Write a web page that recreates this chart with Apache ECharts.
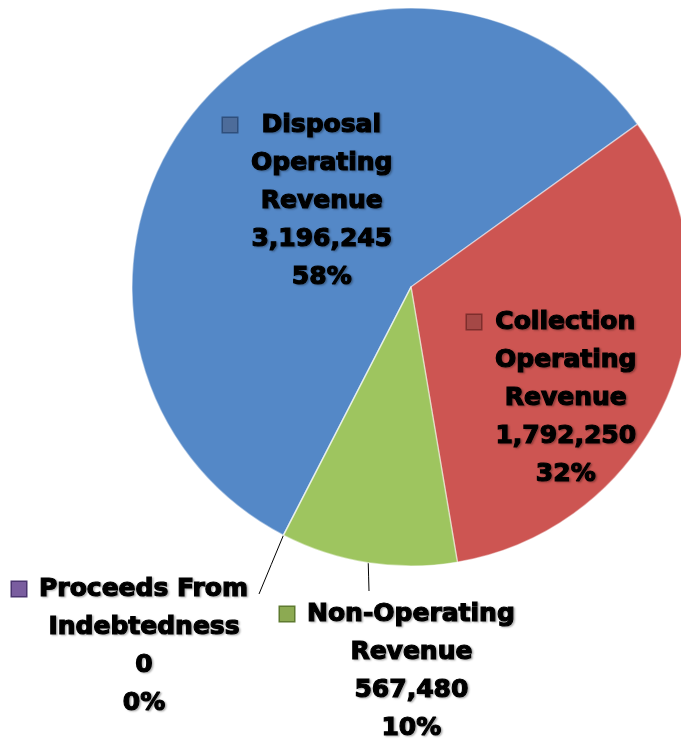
<!DOCTYPE html>
<html>
<head>
<meta charset="utf-8">
<script src="https://cdn.jsdelivr.net/npm/echarts@6/dist/echarts.min.js"></script>
<style>
  html, body { margin: 0; padding: 0; background: #ffffff; }
  #chart { width: 681px; height: 739px; }
</style>
</head>
<body>
<div id="chart"></div>
<script>
// Revenue sources (label lines are split where the label wraps)
const categories = [
  'Disposal\nOperating\nRevenue',
  'Collection\nOperating\nRevenue',
  'Non-Operating\nRevenue',
  'Proceeds From\nIndebtedness'
];
const revenueValues = [3196245, 1792250, 567480, 0];
const sliceColors = ['#5488c7', '#cd5552', '#9ec55f', '#7d61a0'];
const keyColors = ['#4d6c9a', '#a54846', '#8caa52', '#7a5d9f'];
const rimColors = ['#2f4f7c', '#7e2e2c', '#5e7a30', '#4b3570'];

// Where each label block sits (left edge of the legend key, vertical middle)
const labelAnchors = [
  { x: 223, y: 201, inside: true },
  { x: 467, y: 398, inside: true },
  { x: 280, y: 671, inside: false, lineEnd: [369, 591] },
  { x: 12,  y: 646, inside: false, lineEnd: [259, 594] }
];

const fmtNumber = v => v.toLocaleString('en-US');

const rich = {
  gap: { width: 13, align: 'left' },
  pad: { width: 28, align: 'left' },
  t: {
    fontFamily: 'DejaVu Sans',
    fontWeight: 'bold',
    fontSize: 25,
    color: '#000000',
    textBorderColor: '#000000',
    textBorderWidth: 1.2,
    lineHeight: 38,
    align: 'center'
  }
};
keyColors.forEach((c, i) => {
  rich['k' + i] = {
    width: 14, height: 14, align: 'left',
    backgroundColor: c,
    borderColor: rimColors[i], borderWidth: 1.5
  };
});

const chart = echarts.init(document.getElementById('chart'), null, { renderer: 'canvas' });

chart.setOption({
  animation: false,
  backgroundColor: '#ffffff',
  series: [{
    type: 'pie',
    center: [411, 287],
    radius: 279,
    startAngle: 242.8,
    clockwise: true,
    avoidLabelOverlap: false,
    emphasis: { disabled: true },
    itemStyle: { borderColor: 'rgba(255,255,255,0.45)', borderWidth: 1.5 },
    label: {
      show: true,
      position: 'outside',
      lineHeight: 38,
      textShadowColor: 'rgba(0,0,0,0.25)',
      textShadowBlur: 2,
      textShadowOffsetX: 1.5,
      textShadowOffsetY: 1.5,
      rich: rich,
      formatter: p => {
        const lines = p.name.split('\n')
          .concat([fmtNumber(p.value), Math.round(p.percent) + '%']);
        return lines.map((t, i) =>
          (i === 0 ? '{k' + p.dataIndex + '|}{gap|}' : '{pad|}') + '{t|' + t + '}'
        ).join('\n');
      }
    },
    labelLine: { show: true, length: 10, length2: 10, lineStyle: { color: '#000000', width: 1 } },
    labelLayout: params => {
      const a = labelAnchors[params.dataIndex];
      const out = { x: a.x, y: a.y, align: 'left', verticalAlign: 'middle' };
      if (!a.inside && params.labelLinePoints) {
        const s = params.labelLinePoints[0];
        const e = a.lineEnd;
        out.labelLinePoints = [s, [(s[0] + e[0]) / 2, (s[1] + e[1]) / 2], e];
      }
      return out;
    },
    data: categories.map((name, i) => ({
      name: name,
      value: revenueValues[i],
      itemStyle: { color: sliceColors[i] },
      labelLine: { show: !labelAnchors[i].inside }
    }))
  }]
});
</script>
</body>
</html>
